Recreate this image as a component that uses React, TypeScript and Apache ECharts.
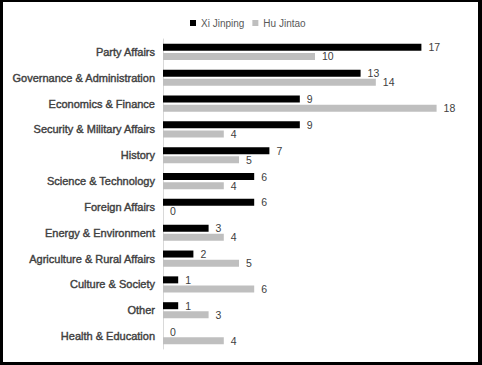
import React, { useEffect, useRef } from "react";
import * as echarts from "echarts";

const categories = [
  "Party Affairs",
  "Governance & Administration",
  "Economics & Finance",
  "Security & Military Affairs",
  "History",
  "Science & Technology",
  "Foreign Affairs",
  "Energy & Environment",
  "Agriculture & Rural Affairs",
  "Culture & Society",
  "Other",
  "Health & Education",
];
const xiValues = [17, 13, 9, 9, 7, 6, 6, 3, 2, 1, 1, 0];
const huValues = [10, 14, 18, 4, 5, 4, 0, 4, 5, 6, 3, 4];
const seriesNames = ["Xi Jinping", "Hu Jintao"];

export default function App() {
  const ref = useRef<HTMLDivElement>(null);
  useEffect(() => {
    document.body.style.margin = "0";
    const chart = echarts.init(ref.current!, null, { renderer: "svg" });
    const font = "Liberation Sans, Arial, sans-serif";
    const label = {
      show: true,
      position: "right",
      distance: 7,
      fontSize: 10.5,
      color: "#404040",
      fontFamily: font,
    };
    chart.setOption({
      animation: false,
      backgroundColor: "#ffffff",
      legend: {
        top: 13,
        left: 185,
        icon: "rect",
        itemWidth: 6,
        itemHeight: 6,
        itemGap: 8,
        data: seriesNames,
        textStyle: { fontSize: 10, color: "#595959", fontFamily: font },
      },
      grid: { left: 163, right: 15, top: 39, bottom: 16, containLabel: false },
      xAxis: {
        type: "value",
        min: 0,
        max: 20,
        show: false,
        splitLine: { show: false },
      },
      yAxis: {
        type: "category",
        inverse: true,
        data: categories,
        axisLine: { show: true, lineStyle: { color: "#d9d9d9", width: 1 } },
        axisTick: { show: false },
        axisLabel: {
          margin: 8,
          fontSize: 11,
          color: "#404040",
          textBorderColor: "#404040",
          textBorderWidth: 0.4,
          fontFamily: font,
        },
      },
      series: [
        {
          name: seriesNames[0],
          type: "bar",
          data: xiValues,
          barWidth: 7,
          barGap: "30%",
          itemStyle: { color: "#000000" },
          label,
        },
        {
          name: seriesNames[1],
          type: "bar",
          data: huValues,
          barWidth: 7,
          barGap: "30%",
          itemStyle: { color: "#bfbfbf" },
          label,
        },
      ],
    });
    return () => chart.dispose();
  }, []);
  return (
    <div style={{ position: "relative", width: 482, height: 365 }}>
      <div ref={ref} style={{ width: 482, height: 365 }} />
      <div
        style={{
          position: "absolute",
          left: 0,
          top: 0,
          width: 482,
          height: 365,
          boxSizing: "border-box",
          borderStyle: "solid",
          borderColor: "#000",
          borderWidth: "2px 4px 3px 3px",
          pointerEvents: "none",
        }}
      />
    </div>
  );
}
